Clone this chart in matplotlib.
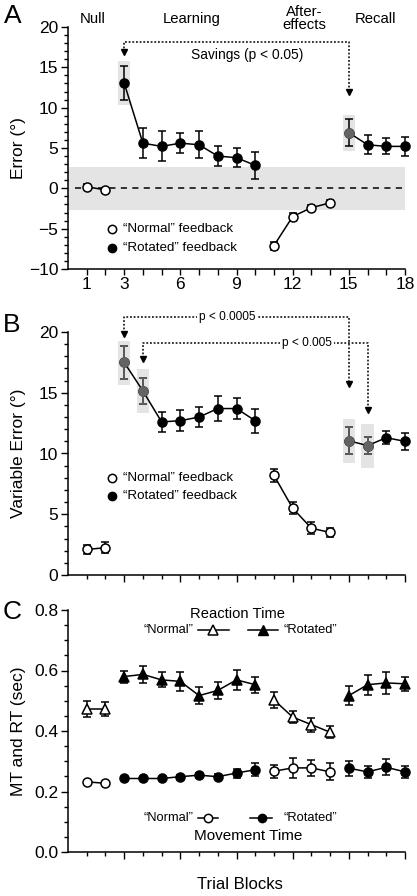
import matplotlib
matplotlib.use('Agg')
import matplotlib.pyplot as plt
from matplotlib.ticker import MultipleLocator, FixedLocator

plt.rcParams['font.family'] = ['Liberation Sans', 'DejaVu Sans']
plt.rcParams['font.size'] = 12

# ---- data ----
# panel A: error (deg)
a_norm1_x = [1, 2]
a_norm1_y = [0.2, -0.2]
a_norm1_e = [0.3, 0.3]
a_norm2_x = [11, 12, 13, 14]
a_norm2_y = [-7.1, -3.5, -2.4, -1.8]
a_norm2_e = [0.5, 0.5, 0.3, 0.3]
a_rot1_x = [3, 4, 5, 6, 7, 8, 9, 10]
a_rot1_y = [13.05, 5.6, 5.2, 5.6, 5.4, 4.0, 3.8, 2.85]
a_rot1_e = [2.1, 1.9, 1.85, 1.25, 1.65, 1.2, 1.2, 1.65]
a_rot2_x = [15, 16, 17, 18]
a_rot2_y = [6.9, 5.4, 5.2, 5.2]
a_rot2_e = [1.65, 1.2, 1.0, 1.2]

# panel B: variable error (deg)
b_norm1_x = [1, 2]
b_norm1_y = [2.1, 2.25]
b_norm1_e = [0.4, 0.45]
b_norm2_x = [11, 12, 13, 14]
b_norm2_y = [8.2, 5.5, 3.85, 3.5]
b_norm2_e = [0.55, 0.5, 0.5, 0.4]
b_rot1_x = [3, 4, 5, 6, 7, 8, 9, 10]
b_rot1_y = [17.5, 15.15, 12.6, 12.7, 13.0, 13.7, 13.7, 12.7]
b_rot1_e = [1.35, 1.1, 0.85, 0.85, 0.85, 1.0, 0.85, 1.0]
b_rot2_x = [15, 16, 17, 18]
b_rot2_y = [11.05, 10.65, 11.3, 11.0]
b_rot2_e = [1.1, 0.7, 0.55, 0.7]

# panel C: reaction time (triangles) and movement time (circles), sec
rt_norm1_x = [1, 2]
rt_norm1_y = [0.473, 0.473]
rt_norm1_e = [0.027, 0.022]
rt_norm2_x = [11, 12, 13, 14]
rt_norm2_y = [0.503, 0.446, 0.421, 0.396]
rt_norm2_e = [0.027, 0.02, 0.023, 0.02]
rt_rot1_x = [3, 4, 5, 6, 7, 8, 9, 10]
rt_rot1_y = [0.58, 0.587, 0.569, 0.564, 0.517, 0.534, 0.569, 0.553]
rt_rot1_e = [0.02, 0.027, 0.025, 0.032, 0.027, 0.027, 0.033, 0.027]
rt_rot2_x = [15, 16, 17, 18]
rt_rot2_y = [0.517, 0.553, 0.559, 0.556]
rt_rot2_e = [0.032, 0.033, 0.036, 0.024]

mt_norm1_x = [1, 2]
mt_norm1_y = [0.232, 0.227]
mt_norm1_e = [0.004, 0.004]
mt_norm2_x = [11, 12, 13, 14]
mt_norm2_y = [0.267, 0.278, 0.278, 0.265]
mt_norm2_e = [0.022, 0.033, 0.027, 0.028]
mt_rot1_x = [3, 4, 5, 6, 7, 8, 9, 10]
mt_rot1_y = [0.243, 0.243, 0.243, 0.249, 0.254, 0.249, 0.261, 0.272]
mt_rot1_e = [0.005, 0.005, 0.006, 0.007, 0.008, 0.008, 0.015, 0.022]
mt_rot2_x = [15, 16, 17, 18]
mt_rot2_y = [0.277, 0.265, 0.28, 0.265]
mt_rot2_e = [0.025, 0.02, 0.027, 0.02]

# highlighted (significance) points: gray markers with shaded box
b_hl_x = [3, 4, 15, 16]

phase_names = ['Null', 'Learning', 'After-\neffects', 'Recall']
phase_x = [1.3, 6.6, 12.6, 16.4]

GRAY = '#636363'
SHADE = '#e4e4e4'
YLAB_X = -0.125


def series(ax, x, y, e, filled=True, marker='o', ms=6.5, face=None):
    fc = face if face else ('black' if filled else 'white')
    ax.errorbar(x, y, yerr=e, fmt='-', color='black', lw=1.1, elinewidth=1.1,
                capsize=3, capthick=1.1, zorder=3, clip_on=False)
    ax.plot(x, y, marker=marker, ls='none', ms=ms, mfc=fc, mec='black',
            mew=1.1, zorder=4, clip_on=False)


def style(ax):
    ax.spines['top'].set_visible(False)
    ax.spines['right'].set_visible(False)
    ax.spines['left'].set_linewidth(1.1)
    ax.spines['bottom'].set_linewidth(1.1)
    ax.set_xlim(0, 18)
    ax.tick_params(which='both', direction='out', width=1.0, labelsize=12.5, pad=2)
    ax.tick_params(which='major', length=5)
    ax.tick_params(which='minor', length=3)


def darrow(ax, pts, tip):
    xs = [p[0] for p in pts]
    ys = [p[1] for p in pts]
    ax.plot(xs, ys, ls=(0, (1.2, 1.2)), color='black', lw=1.1, clip_on=False, zorder=2)
    ax.plot([tip[0]], [tip[1]], marker='v', ms=5, color='black', clip_on=False, zorder=2)


fig = plt.figure(figsize=(4.17, 8.96), dpi=100)
L, W = 68 / 417, 337 / 417
axA = fig.add_axes([L, 1 - 269 / 896, W, 242 / 896])
axB = fig.add_axes([L, 1 - 575 / 896, W, 243 / 896])
axC = fig.add_axes([L, 1 - 852 / 896, W, 242 / 896])

# ---------------- Panel A ----------------
ax = axA
style(ax)
ax.set_ylim(-10, 20)
ax.axhspan(-2.7, 2.7, color=SHADE, zorder=0, lw=0)
ax.plot([0.35, 18], [0, 0], ls=(0, (4, 3.5)), color='black', lw=1.1, zorder=1)
for hx, hy, he in [(3, a_rot1_y[0], a_rot1_e[0]), (15, a_rot2_y[0], a_rot2_e[0])]:
    ax.add_patch(plt.Rectangle((hx - 0.33, hy - he - 0.6), 0.66, 2 * he + 1.2,
                               color=SHADE, lw=0, zorder=1))
series(ax, a_norm1_x, a_norm1_y, a_norm1_e, filled=False)
series(ax, a_norm2_x, a_norm2_y, a_norm2_e, filled=False)
series(ax, a_rot1_x, a_rot1_y, a_rot1_e)
series(ax, a_rot2_x, a_rot2_y, a_rot2_e)
ax.plot([15], [a_rot2_y[0]], 'o', ms=6.5, mfc=GRAY, mec=GRAY, zorder=5)
ax.set_yticks([-10, -5, 0, 5, 10, 15, 20])
ax.yaxis.set_minor_locator(MultipleLocator(1))
ax.xaxis.set_major_locator(FixedLocator([1, 3, 6, 9, 12, 15, 18]))
ax.xaxis.set_minor_locator(FixedLocator(range(1, 19)))
ax.tick_params(axis='x', which='both', length=4)
ax.set_ylabel('Error (°)', fontsize=12.5)
ax.yaxis.set_label_coords(YLAB_X, 0.5)
for nm, px in zip(phase_names, phase_x):
    ax.text(px, 1.035, nm, transform=ax.get_xaxis_transform(), ha='center',
            va='center', fontsize=10.7, linespacing=0.95)
darrow(ax, [(3, 16.9), (3, 18.1), (15, 18.1), (15, 12.2)], (15, 12.0))
ax.plot([3], [16.9], marker='v', ms=4, color='black', zorder=2)
ax.text(9.55, 16.5, 'Savings (p < 0.05)', ha='center', va='center', fontsize=9.9)
ax.plot([2.35], [-5.1], 'o', ms=6, mfc='white', mec='black', mew=1.1)
ax.plot([2.35], [-7.35], 'o', ms=6, mfc='black', mec='black')
ax.text(2.95, -5.1, '“Normal” feedback', va='center', fontsize=9.6)
ax.text(2.95, -7.35, '“Rotated” feedback', va='center', fontsize=9.6)

# ---------------- Panel B ----------------
ax = axB
style(ax)
ax.set_ylim(0, 20)
b_hl_y = [b_rot1_y[0], b_rot1_y[1], b_rot2_y[0], b_rot2_y[1]]
b_hl_e = [b_rot1_e[0], b_rot1_e[1], b_rot2_e[0], b_rot2_e[1]]
for hx, hy, he in zip(b_hl_x, b_hl_y, b_hl_e):
    ax.add_patch(plt.Rectangle((hx - 0.33, hy - 1.85), 0.66, 3.65,
                               color=SHADE, lw=0, zorder=1))
series(ax, b_norm1_x, b_norm1_y, b_norm1_e, filled=False)
series(ax, b_norm2_x, b_norm2_y, b_norm2_e, filled=False)
series(ax, b_rot1_x, b_rot1_y, b_rot1_e)
series(ax, b_rot2_x, b_rot2_y, b_rot2_e)
for hx, hy, he in zip(b_hl_x, b_hl_y, b_hl_e):
    ax.errorbar([hx], [hy], yerr=[he], fmt='o', ms=6.5, mfc=GRAY, mec=GRAY,
                ecolor=GRAY, elinewidth=1.1, capsize=3, capthick=1.1, zorder=5)
ax.set_yticks([0, 5, 10, 15, 20])
ax.yaxis.set_minor_locator(MultipleLocator(1))
ax.xaxis.set_major_locator(FixedLocator([3, 6, 9, 12, 15, 18]))
ax.xaxis.set_minor_locator(FixedLocator([1, 2, 4, 5, 7, 8, 10, 11, 13, 14, 16, 17]))
ax.tick_params(axis='x', which='major', length=5)
ax.tick_params(axis='x', which='minor', length=3)
ax.set_xticklabels([])
ax.set_ylabel('Variable Error (°)', fontsize=12.5)
ax.yaxis.set_label_coords(YLAB_X, 0.5)
darrow(ax, [(3, 19.9), (3, 21.2), (15, 21.2), (15, 15.9)], (15, 15.7))
ax.plot([3], [19.8], marker='v', ms=4.5, color='black', clip_on=False, zorder=2)
darrow(ax, [(4, 17.9), (4, 19.1), (16, 19.1), (16, 13.8)], (16, 13.6))
ax.plot([4], [17.8], marker='v', ms=4.5, color='black', clip_on=False, zorder=2)
ax.text(8.5, 21.2, 'p < 0.0005', ha='center', va='center', fontsize=8.6,
        bbox=dict(fc='white', ec='none', pad=1.5), zorder=3)
ax.text(12.75, 19.1, 'p < 0.005', ha='center', va='center', fontsize=8.6,
        bbox=dict(fc='white', ec='none', pad=1.5), zorder=3)
ax.plot([2.35], [8.0], 'o', ms=6, mfc='white', mec='black', mew=1.1)
ax.plot([2.35], [6.5], 'o', ms=6, mfc='black', mec='black')
ax.text(2.95, 8.0, '“Normal” feedback', va='center', fontsize=9.6)
ax.text(2.95, 6.5, '“Rotated” feedback', va='center', fontsize=9.6)

# ---------------- Panel C ----------------
ax = axC
style(ax)
ax.set_ylim(0, 0.8)
series(ax, rt_norm1_x, rt_norm1_y, rt_norm1_e, filled=False, marker='^', ms=7.5)
series(ax, rt_norm2_x, rt_norm2_y, rt_norm2_e, filled=False, marker='^', ms=7.5)
series(ax, rt_rot1_x, rt_rot1_y, rt_rot1_e, marker='^', ms=7.5)
series(ax, rt_rot2_x, rt_rot2_y, rt_rot2_e, marker='^', ms=7.5)
series(ax, mt_norm1_x, mt_norm1_y, mt_norm1_e, filled=False)
series(ax, mt_norm2_x, mt_norm2_y, mt_norm2_e, filled=False)
series(ax, mt_rot1_x, mt_rot1_y, mt_rot1_e)
series(ax, mt_rot2_x, mt_rot2_y, mt_rot2_e)
ax.set_yticks([0.0, 0.2, 0.4, 0.6, 0.8])
ax.set_yticklabels(['0.0', '0.2', '0.4', '0.6', '0.8'])
ax.yaxis.set_minor_locator(MultipleLocator(0.05))
ax.xaxis.set_major_locator(FixedLocator([3, 6, 9, 12, 15, 18]))
ax.xaxis.set_minor_locator(FixedLocator([1, 2, 4, 5, 7, 8, 10, 11, 13, 14, 16, 17]))
ax.tick_params(axis='x', which='major', length=5)
ax.tick_params(axis='x', which='minor', length=3)
ax.set_xticklabels([])
ax.set_ylabel('MT and RT (sec)', fontsize=12.5)
ax.yaxis.set_label_coords(YLAB_X, 0.5)

# RT legend
ax.text(9.05, 0.787, 'Reaction Time', ha='center', va='center', fontsize=10.6)
ax.text(6.7, 0.733, '“Normal”', ha='right', va='center', fontsize=9.3)
ax.plot([6.95, 8.6], [0.733, 0.733], color='black', lw=1.1)
ax.plot([7.75], [0.733], '^', ms=7, mfc='white', mec='black', mew=1.1)
ax.plot([9.6, 11.2], [0.733, 0.733], color='black', lw=1.1)
ax.plot([10.4], [0.733], '^', ms=7, mfc='black', mec='black')
ax.text(11.5, 0.733, '“Rotated”', ha='left', va='center', fontsize=9.3)
# MT legend
ax.text(6.7, 0.111, '“Normal”', ha='right', va='center', fontsize=9.3)
ax.plot([6.95, 8.0], [0.111, 0.111], color='black', lw=1.1)
ax.plot([7.5], [0.111], 'o', ms=6, mfc='white', mec='black', mew=1.1)
ax.plot([9.7, 10.9], [0.111, 0.111], color='black', lw=1.1)
ax.plot([10.35], [0.111], 'o', ms=6, mfc='black', mec='black')
ax.text(11.5, 0.111, '“Rotated”', ha='left', va='center', fontsize=9.3)
ax.text(9.6, 0.052, 'Movement Time', ha='center', va='center', fontsize=11)

fig.text(240 / 417, 1 - 884 / 896, 'Trial Blocks', ha='center', va='center', fontsize=12)

# panel letters
fig.text(12.5 / 417, 1 - 16 / 896, 'A', fontsize=19, ha='center', va='center')
fig.text(11.5 / 417, 1 - 325 / 896, 'B', fontsize=19, ha='center', va='center')
fig.text(12 / 417, 1 - 612 / 896, 'C', fontsize=19, ha='center', va='center')

fig.savefig('out.png', dpi=100)
